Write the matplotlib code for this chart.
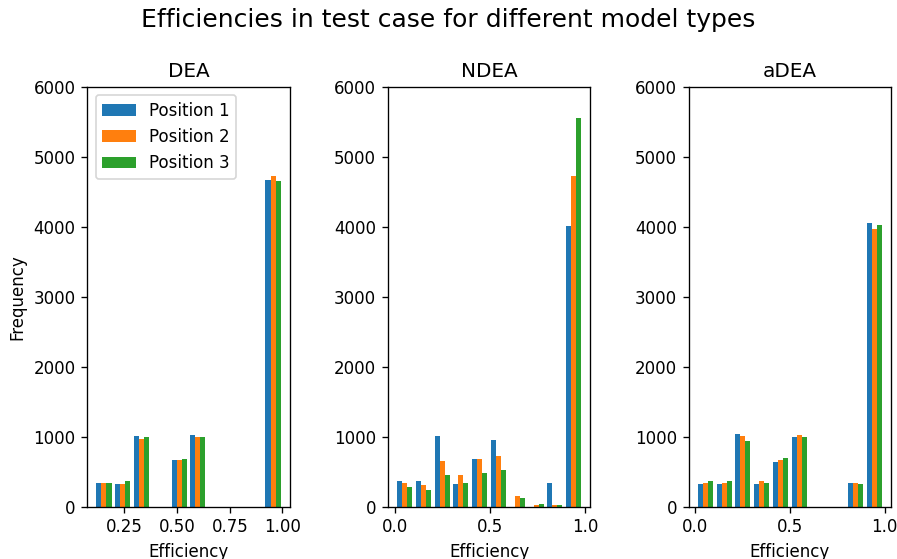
import numpy as np
import matplotlib
matplotlib.use("Agg")
from matplotlib import pyplot as plt

# histogram counts, 10 bins per model, 3 positions
dea_range = (0.108, 1.0)
dea_pos1 = [345, 325, 1005, 0, 667, 1023, 0, 0, 0, 4667]
dea_pos2 = [345, 325, 972, 0, 667, 991, 0, 0, 0, 4729]
dea_pos3 = [345, 360, 1000, 0, 681, 991, 0, 0, 0, 4649]

ndea_range = (0.0, 0.99)
ndea_pos1 = [360, 360, 1005, 330, 681, 953, 0, 0, 343, 4010]
ndea_pos2 = [343, 315, 653, 446, 681, 718, 146, 20, 20, 4729]
ndea_pos3 = [277, 244, 446, 343, 484, 531, 127, 42, 20, 5557]

adea_range = (0.005, 0.995)
adea_pos1 = [329, 329, 1042, 329, 634, 991, 0, 0, 343, 4057]
adea_pos2 = [343, 343, 1005, 361, 671, 1023, 0, 0, 343, 3971]
adea_pos3 = [361, 361, 939, 343, 700, 991, 0, 0, 329, 4029]

titles = ['DEA', 'NDEA', 'aDEA']
labels = ['Position 1', 'Position 2', 'Position 3']

models = [
    (dea_range, [dea_pos1, dea_pos2, dea_pos3]),
    (ndea_range, [ndea_pos1, ndea_pos2, ndea_pos3]),
    (adea_range, [adea_pos1, adea_pos2, adea_pos3]),
]

fig, axes = plt.subplots(1, 3, figsize=(897 / 120, 559 / 120), dpi=120)
fig.subplots_adjust(left=0.0973, right=0.9933, top=0.845, bottom=0.0936, wspace=0.485)

for ax, title, (rng, counts) in zip(axes, titles, models):
    edges = np.linspace(rng[0], rng[1], 11)
    centers = (edges[:-1] + edges[1:]) / 2
    ax.hist([centers] * 3, bins=edges, weights=counts, label=labels)
    ax.set_ylim(0, 6000)
    ax.set_title(title)
    ax.set_xlabel('Efficiency')

axes[0].set_xticks([0.25, 0.5, 0.75, 1.0])
axes[0].set_ylabel('Frequency')
axes[0].legend(loc='upper left')

fig.suptitle('Efficiencies in test case for different model types', fontsize=15, y=0.985)

plt.savefig('out.png', dpi=120)
